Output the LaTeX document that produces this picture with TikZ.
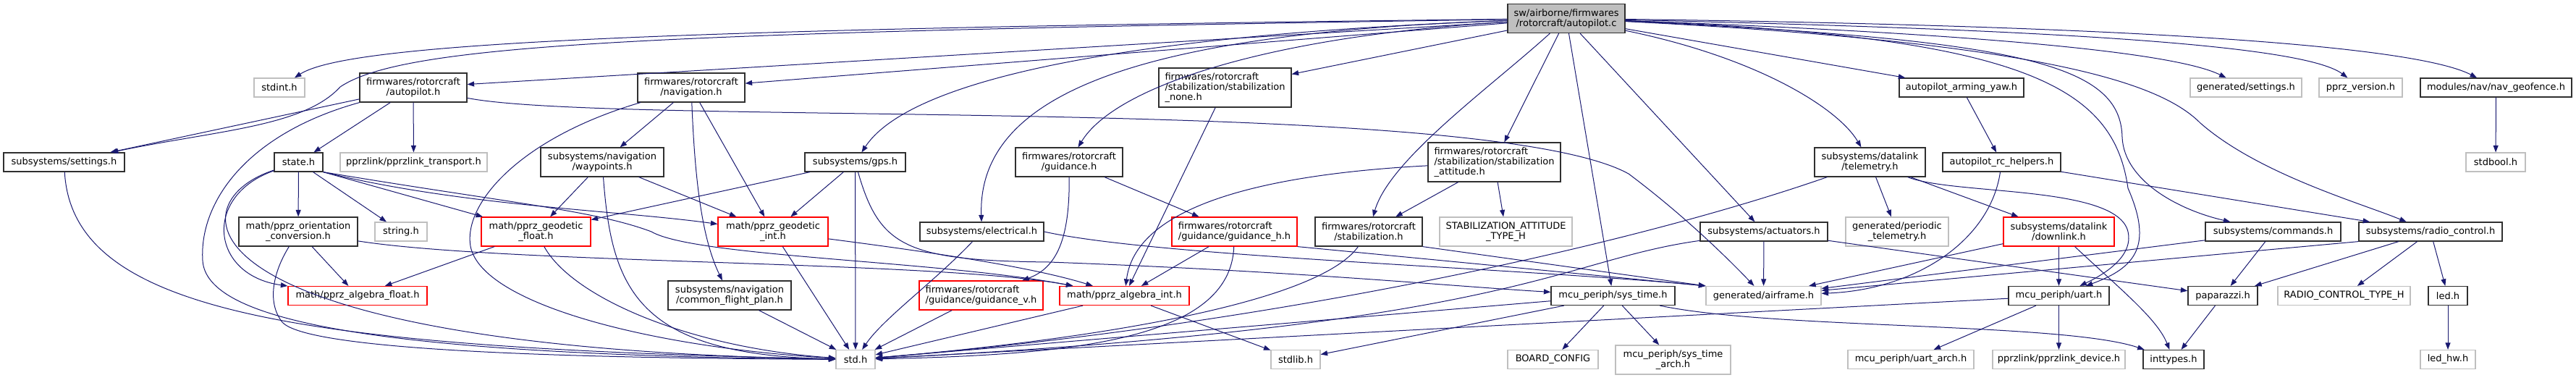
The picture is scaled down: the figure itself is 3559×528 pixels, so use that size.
\documentclass[tikz,border=0pt]{standalone}
\usepackage{fontspec}
\setmainfont{DejaVu Sans}
\usepackage{xcolor}
\usepackage{tikz}
\usetikzlibrary{arrows.meta}
\definecolor{edgeblue}{HTML}{191970}
\definecolor{lightgrey}{HTML}{BFBFBF}
\definecolor{boxline}{HTML}{303030}
\tikzset{
  file/.style={draw=boxline, line width=1.2pt, fill=white, inner sep=0pt,
               minimum height=26pt, align=center, font=\fontsize{13}{14}\selectfont},
  twoline/.style={minimum height=40pt},
  threeline/.style={minimum height=54pt},
  extfile/.style={file, draw=lightgrey},
  redfile/.style={file, draw=red},
  rootfile/.style={file, fill=lightgrey},
  dep/.style={-{Triangle[length=9.5pt,width=7pt]}, draw=edgeblue, line width=1pt},
}
\begin{document}
\begin{tikzpicture}[x=1pt, y=-1pt]
  \useasboundingbox (0,0) rectangle (3559,528);
  % row 0
  \node[rootfile, twoline, minimum width=162pt] (root) at (2164,25.5) {sw/airborne/firmwares\\/rotorcraft/autopilot.c};
  % row 1
  \node[extfile, minimum width=70pt]  (stdintH)   at (386,121)    {stdint.h};
  \node[file, twoline, minimum width=148pt] (apH)  at (571,121)    {firmwares/rotorcraft\\/autopilot.h};
  \node[file, twoline, minimum width=148pt] (navH) at (955,121)    {firmwares/rotorcraft\\/navigation.h};
  \node[file, threeline, align=left, minimum width=183pt] (stabNoneH) at (1692.5,121) {firmwares/rotorcraft\\/stabilization/stabilization\\\_none.h};
  \node[file, minimum width=172pt]    (armYawH)   at (2710,121)   {autopilot\_arming\_yaw.h};
  \node[extfile, minimum width=154pt] (genSetH)   at (3103,121)   {generated/settings.h};
  \node[extfile, minimum width=115pt] (verH)      at (3261.5,121) {pprz\_version.h};
  \node[file, minimum width=209pt]    (geofenceH) at (3448.5,121) {modules/nav/nav\_geofence.h};
  % row 2
  \node[file, minimum width=167pt]    (setH)      at (88.5,224)   {subsystems/settings.h};
  \node[file, minimum width=67pt]     (stateH)    at (412.5,224)  {state.h};
  \node[extfile, minimum width=203pt] (transpH)   at (571.5,224)  {pprzlink/pprzlink\_transport.h};
  \node[file, twoline, minimum width=170pt] (wpH) at (832,224)    {subsystems/navigation\\/waypoints.h};
  \node[file, minimum width=139pt]    (gpsH)      at (1181.5,224) {subsystems/gps.h};
  \node[file, twoline, minimum width=148pt] (guidH) at (1477,224) {firmwares/rotorcraft\\/guidance.h};
  \node[file, threeline, align=left, minimum width=183pt] (stabAttH) at (2064.5,224) {firmwares/rotorcraft\\/stabilization/stabilization\\\_attitude.h};
  \node[file, twoline, minimum width=153pt] (telemH) at (2583.5,224) {subsystems/datalink\\/telemetry.h};
  \node[file, minimum width=163pt]    (rcHelpH)   at (2765.5,224) {autopilot\_rc\_helpers.h};
  \node[extfile, minimum width=82pt]  (stdboolH)  at (3448,224)   {stdbool.h};
  % row 3
  \node[file, twoline, minimum width=164pt] (orientH) at (412,320) {math/pprz\_orientation\\\_conversion.h};
  \node[extfile, minimum width=72pt]  (stringH)   at (554,320)    {string.h};
  \node[redfile, twoline, minimum width=151pt] (geoFloatH) at (740.5,320) {math/pprz\_geodetic\\\_float.h};
  \node[redfile, twoline, minimum width=152pt] (geoIntH)   at (1068,320)  {math/pprz\_geodetic\\\_int.h};
  \node[file, minimum width=171pt]    (elecH)     at (1356.5,320) {subsystems/electrical.h};
  \node[redfile, twoline, align=left, minimum width=173pt] (guidHH) at (1705.5,320) {firmwares/rotorcraft\\/guidance/guidance\_h.h};
  \node[file, twoline, minimum width=148pt] (stabH) at (1891,320) {firmwares/rotorcraft\\/stabilization.h};
  \node[extfile, twoline, minimum width=183pt] (attTypeH) at (2080.5,320) {STABILIZATION\_ATTITUDE\\\_TYPE\_H};
  \node[file, minimum width=176pt]    (actH)      at (2437,320)   {subsystems/actuators.h};
  \node[extfile, twoline, minimum width=142pt] (periodicH) at (2621,320) {generated/periodic\\\_telemetry.h};
  \node[redfile, twoline, minimum width=153pt] (downH) at (2844.5,320) {subsystems/datalink\\/downlink.h};
  \node[file, minimum width=187pt]    (cmdH)      at (3140.5,320) {subsystems/commands.h};
  \node[file, minimum width=198pt]    (rcH)       at (3358,320)   {subsystems/radio\_control.h};
  % row 4
  \node[redfile, minimum width=192pt] (algFloatH) at (494,408.5)  {math/pprz\_algebra\_float.h};
  \node[file, twoline, minimum width=170pt] (cfpH) at (1008,408)  {subsystems/navigation\\/common\_flight\_plan.h};
  \node[redfile, twoline, align=left, minimum width=171pt] (guidVH) at (1355.5,408) {firmwares/rotorcraft\\/guidance/guidance\_v.h};
  \node[redfile, minimum width=179pt] (algIntH)   at (1553.5,408.5) {math/pprz\_algebra\_int.h};
  \node[file, minimum width=171pt]    (sysTimeH)  at (2228.5,408.5) {mcu\_periph/sys\_time.h};
  \node[extfile, minimum width=159pt] (airframeH) at (2436.5,408.5) {generated/airframe.h};
  \node[file, minimum width=139pt]    (uartH)     at (2844.5,408.5) {mcu\_periph/uart.h};
  \node[file, minimum width=96pt]     (papH)      at (3071,408.5)   {paparazzi.h};
  \node[extfile, minimum width=183pt] (rcTypeH)   at (3238.5,408.5) {RADIO\_CONTROL\_TYPE\_H};
  \node[file, minimum width=54pt]     (ledH)      at (3382,408.5)   {led.h};
  % row 5
  \node[extfile, minimum width=54pt]  (stdH)      at (1182,496.5)   {std.h};
  \node[extfile, minimum width=68pt]  (stdlibH)   at (1790,496.5)   {stdlib.h};
  \node[extfile, minimum width=125pt] (boardH)    at (2145.5,496.5) {BOARD\_CONFIG};
  \node[extfile, twoline, minimum width=159pt] (sysArchH) at (2311.5,497) {mcu\_periph/sys\_time\\\_arch.h};
  \node[extfile, minimum width=174pt] (uartArchH) at (2640,496.5)   {mcu\_periph/uart\_arch.h};
  \node[extfile, minimum width=183pt] (deviceH)   at (2844.5,496.5) {pprzlink/pprzlink\_device.h};
  \node[file, minimum width=84pt]     (inttypesH) at (3003,496.5)   {inttypes.h};
  \node[extfile, minimum width=76pt]  (ledHwH)    at (3382,496.5)   {led\_hw.h};

  % includes of autopilot.c
  \draw[dep] (root) .. controls (900,40) and (480,60) .. (stdintH);
  \draw[dep] (root) .. controls (900,45) and (560,60) .. (470,120) .. controls (420,175) and (300,180) .. (setH);
  \draw[dep] (root) -- (apH);
  \draw[dep] (root) -- (navH);
  \draw[dep] (root) .. controls (1500,50) and (1250,120) .. (gpsH);
  \draw[dep] (root) .. controls (1600,45) and (1350,120) .. (elecH);
  \draw[dep] (root) .. controls (1750,50) and (1540,120) .. (guidH);
  \draw[dep] (root) -- (stabNoneH);
  \draw[dep] (root) .. controls (2060,120) and (1920,220) .. (stabH);
  \draw[dep] (root) -- (stabAttH);
  \draw[dep] (root) -- (sysTimeH);
  \draw[dep] (root) -- (actH);
  \draw[dep] (root) .. controls (2430,80) and (2540,150) .. (telemH);
  \draw[dep] (root) -- (armYawH);
  \draw[dep] (root) .. controls (2800,50) and (2920,120) .. (2940,260) .. controls (2975,340) and (2950,370) .. (uartH);
  \draw[dep] (root) .. controls (2800,55) and (2930,90) .. (2932,190) .. controls (2935,250) and (3010,290) .. (cmdH);
  \draw[dep] (root) .. controls (2850,60) and (2990,120) .. (3040,170) .. controls (3120,240) and (3260,280) .. (rcH);
  \draw[dep] (root) .. controls (2700,45) and (3000,70) .. (genSetH);
  \draw[dep] (root) .. controls (2800,40) and (3180,60) .. (verH);
  \draw[dep] (root) .. controls (2900,35) and (3330,60) .. (geofenceH);

  % firmwares/rotorcraft/autopilot.h
  \draw[dep] (apH) -- (setH);
  \draw[dep] (apH) -- (stateH);
  \draw[dep] (apH) -- (transpH);
  \draw[dep] (apH) .. controls (340,185) and (275,280) .. (280,360) .. controls (285,440) and (500,490) .. (stdH);
  \draw[dep] (apH) .. controls (850,175) and (2050,130) .. (2250,240) .. controls (2330,300) and (2390,360) .. (airframeH);
  \draw[dep] (setH) .. controls (100,430) and (400,480) .. (stdH);

  % state.h
  \draw[dep] (stateH) -- (orientH);
  \draw[dep] (stateH) -- (stringH);
  \draw[dep] (stateH.south east) -- (geoFloatH);
  \draw[dep] (stateH.south east) .. controls (640,285) and (850,290) .. (geoIntH);
  \draw[dep] (stateH.south east) .. controls (700,280) and (820,290) .. (900,320) .. controls (960,355) and (1300,360) .. (algIntH);
  \draw[dep] (stateH) .. controls (280,270) and (290,380) .. (algFloatH);
  \draw[dep] (stateH) .. controls (240,280) and (240,480) .. (stdH);
  \draw[dep] (orientH) -- (algFloatH);
  \draw[dep] (orientH) .. controls (375,380) and (370,420) .. (390,445) .. controls (430,490) and (900,495) .. (stdH);
  \draw[dep] (orientH) .. controls (700,365) and (1300,360) .. (algIntH);
  \draw[dep] (geoFloatH) -- (algFloatH);
  \draw[dep] (geoFloatH) .. controls (790,410) and (950,480) .. (stdH);

  % navigation
  \draw[dep] (navH) -- (wpH);
  \draw[dep] (navH) -- (geoIntH);
  \draw[dep] (navH) .. controls (960,250) and (970,330) .. (cfpH);
  \draw[dep] (navH) .. controls (720,190) and (640,280) .. (650,340) .. controls (665,420) and (900,480) .. (stdH);
  \draw[dep] (wpH) -- (geoFloatH);
  \draw[dep] (wpH) -- (geoIntH);
  \draw[dep] (wpH) .. controls (845,400) and (880,490) .. (stdH);
  \draw[dep] (cfpH) -- (stdH);

  % gps, electrical, guidance
  \draw[dep] (gpsH) -- (geoIntH);
  \draw[dep] (gpsH) -- (stdH);
  \draw[dep] (gpsH) -- (geoFloatH);
  \draw[dep] (gpsH) .. controls (1215,340) and (1250,360) .. (1450,362) .. controls (1800,375) and (2000,395) .. (sysTimeH);
  \draw[dep] (geoIntH) -- (stdH);
  \draw[dep] (geoIntH) .. controls (1300,350) and (1430,370) .. (algIntH);
  \draw[dep] (elecH) .. controls (1290,390) and (1220,440) .. (stdH);
  \draw[dep] (elecH.east) .. controls (1600,355) and (2100,370) .. (airframeH.north west);
  \draw[dep] (guidH) .. controls (1478,330) and (1460,370) .. (guidVH);
  \draw[dep] (guidH) -- (guidHH);
  \draw[dep] (guidHH) -- (algIntH);
  \draw[dep] (guidHH) .. controls (1700,470) and (1480,490) .. (stdH);
  \draw[dep] (guidHH.south east) -- (airframeH.north west);
  \draw[dep] (guidVH) -- (stdH);
  \draw[dep] (algIntH) -- (stdH);
  \draw[dep] (algIntH) -- (stdlibH);

  % stabilization
  \draw[dep] (stabNoneH) -- (algIntH);
  \draw[dep] (stabAttH) -- (stabH);
  \draw[dep] (stabAttH) -- (attTypeH);
  \draw[dep] (stabAttH) .. controls (1760,240) and (1570,280) .. (algIntH);
  \draw[dep] (stabH) .. controls (1820,420) and (1500,470) .. (stdH);
  \draw[dep] (stabH.south east) -- (airframeH.north west);

  % telemetry, actuators, sys_time
  \draw[dep] (telemH) .. controls (2250,340) and (1750,450) .. (stdH);
  \draw[dep] (telemH) -- (periodicH);
  \draw[dep] (telemH) -- (downH);
  \draw[dep] (telemH) .. controls (2700,270) and (2925,255) .. (2940,320) .. controls (2948,355) and (2905,380) .. (uartH);
  \draw[dep] (actH) .. controls (2150,360) and (2100,450) .. (stdH);
  \draw[dep] (actH) -- (airframeH);
  \draw[dep] (actH) -- (papH);
  \draw[dep] (sysTimeH) -- (stdlibH);
  \draw[dep] (sysTimeH) -- (stdH);
  \draw[dep] (sysTimeH) -- (boardH);
  \draw[dep] (sysTimeH) -- (sysArchH);
  \draw[dep] (sysTimeH) .. controls (2450,455) and (2850,445) .. (inttypesH);

  % datalink, uart, radio control
  \draw[dep] (downH) -- (uartH);
  \draw[dep] (downH) .. controls (2930,400) and (2980,440) .. (inttypesH);
  \draw[dep] (downH) -- (airframeH);
  \draw[dep] (uartH) -- (uartArchH);
  \draw[dep] (uartH) -- (deviceH);
  \draw[dep] (uartH) -- (stdH);
  \draw[dep] (armYawH) -- (rcHelpH);
  \draw[dep] (rcHelpH) -- (rcH);
  \draw[dep] (rcHelpH) .. controls (2750,330) and (2650,400) .. (airframeH);
  \draw[dep] (cmdH) -- (papH);
  \draw[dep] (cmdH) -- (airframeH);
  \draw[dep] (rcH.south west) -- (airframeH);
  \draw[dep] (rcH) -- (papH);
  \draw[dep] (rcH) -- (rcTypeH);
  \draw[dep] (rcH) -- (ledH);
  \draw[dep] (papH) -- (inttypesH);
  \draw[dep] (ledH) -- (ledHwH);
  \draw[dep] (geofenceH) -- (stdboolH);
\end{tikzpicture}
\end{document}
